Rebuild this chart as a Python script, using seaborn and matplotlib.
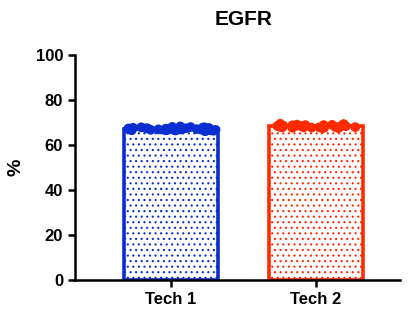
import seaborn as sns
import matplotlib.pyplot as plt
import numpy as np
import pandas as pd

groups = ['Tech 1', 'Tech 2']
colors = ['#0a2ecf', '#ff2a00']
tech1 = [66.2, 67.5, 66.8, 67.9, 66.5, 67.2, 68.1, 66.9, 67.4, 66.3, 67.8, 67.0, 66.6, 68.3, 67.3, 66.7,
         67.6, 66.4, 67.1, 67.7, 66.9, 68.0, 67.2, 66.5, 67.9, 66.8, 67.4, 66.6, 67.0, 67.5]
tech2 = [67.8, 68.6, 67.5, 69.2, 68.1, 68.9, 67.7, 68.4, 69.5, 68.0, 68.7, 67.9, 68.3, 69.0, 68.5, 67.6,
         68.8, 68.2, 69.1, 68.0, 68.6, 67.8, 68.4, 67.7, 68.9, 68.1, 68.5, 67.9, 69.3, 68.2]

df = pd.DataFrame({
    'group': ['Tech 1'] * len(tech1) + ['Tech 2'] * len(tech2),
    'value': tech1 + tech2,
})

plt.rcParams['font.family'] = ['Liberation Sans', 'DejaVu Sans']
plt.rcParams['font.weight'] = 'bold'
plt.rcParams['hatch.linewidth'] = 0.8

fig = plt.figure(figsize=(4.09, 3.13), dpi=100)
ax = fig.add_axes([0.183, 0.105, 0.795, 0.719])

sns.barplot(data=df, x='group', y='value', order=groups, errorbar=None,
            width=0.65, fill=False, ax=ax)
for bar, c in zip(ax.patches, colors):
    bar.set_edgecolor(c)
    bar.set_linewidth(2.6)
    bar.set_hatch('...')
    bar.set_zorder(2)

sns.stripplot(data=df, x='group', y='value', order=groups, hue='group',
              palette=colors, jitter=0.31, size=7, linewidth=0,
              legend=False, ax=ax, zorder=3)

ax.set_ylim(0, 100)
ax.set_yticks([0, 20, 40, 60, 80, 100])
ax.set_xlim(-0.662, 1.579)
ax.set_xlabel('')
ax.set_ylabel('%', fontsize=14, fontweight='bold', labelpad=8)
ax.set_title('EGFR', fontsize=15, fontweight='bold', pad=22, x=0.52)
for s in ['top', 'right']:
    ax.spines[s].set_visible(False)
for s in ['left', 'bottom']:
    ax.spines[s].set_linewidth(1.8)
ax.tick_params(axis='both', width=1.8, length=5, labelsize=12)
for lab in ax.get_xticklabels() + ax.get_yticklabels():
    lab.set_fontweight('bold')

fig.savefig('out.png', dpi=100)
